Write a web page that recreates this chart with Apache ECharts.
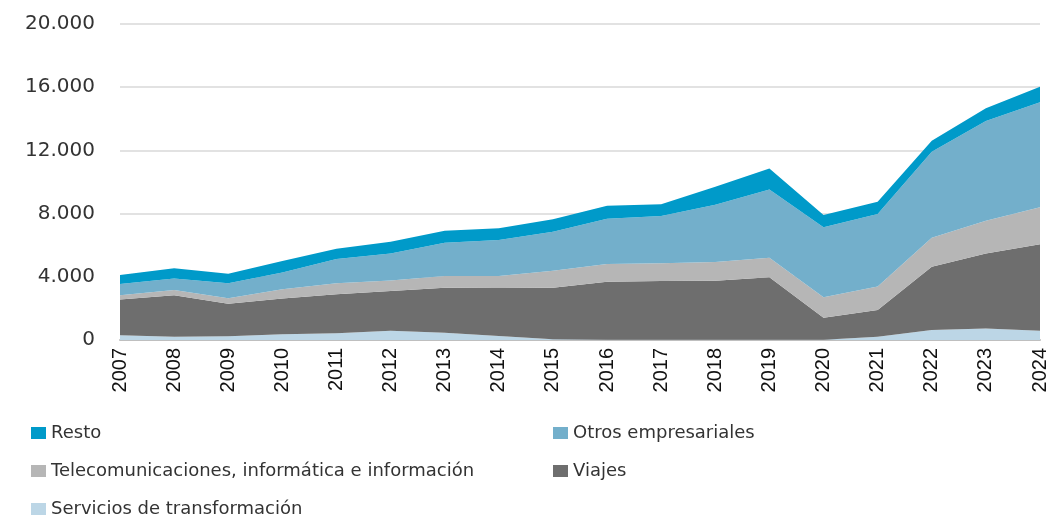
<!DOCTYPE html>
<html>
<head>
<meta charset="utf-8">
<script src="https://cdn.jsdelivr.net/npm/echarts@6/dist/echarts.min.js"></script>
<style>
html,body{margin:0;padding:0;background:#fff;}
#chart{width:1050px;height:518px;}
</style>
</head>
<body>
<div id="chart"></div>
<script>
var years = ['2007','2008','2009','2010','2011','2012','2013','2014','2015','2016','2017','2018','2019','2020','2021','2022','2023','2024'];
var servicios = [300,210,230,360,420,590,460,250,40,20,10,10,10,10,210,630,720,590];
var viajes = [2270,2620,2070,2260,2470,2510,2850,3040,3270,3670,3720,3740,3960,1400,1690,4010,4760,5470];
var telecom = [260,330,340,590,700,660,740,760,1080,1120,1120,1190,1240,1290,1480,1830,2070,2340];
var otros = [710,740,950,1070,1540,1720,2110,2280,2460,2870,3000,3620,4320,4430,4590,5450,6310,6640];
var resto = [570,640,610,720,650,740,760,740,790,820,740,1140,1330,780,780,690,800,990];

var chart = echarts.init(document.getElementById('chart'));
var font = 'DejaVu Sans';

function area(name, data, color){
    return {
        name: name,
        type: 'line',
        stack: 'total',
        data: data,
        symbol: 'none',
        lineStyle: {width: 0},
        areaStyle: {color: color, opacity: 1},
        itemStyle: {color: color}
    };
}

var legendText = {fontFamily: font, fontSize: 18, color: '#333'};

var option = {
    animation: false,
    grid: {left: 120, right: 10, top: 24, bottom: 178},
    legend: [
        {
            orient: 'vertical', left: 26, top: 419, height: 120, itemGap: 20,
            itemWidth: 15, itemHeight: 12, icon: 'rect',
            textStyle: legendText,
            data: ['Resto', 'Telecomunicaciones, informática e información', 'Servicios de transformación']
        },
        {
            orient: 'vertical', left: 548, top: 419, height: 120, itemGap: 20,
            itemWidth: 15, itemHeight: 12, icon: 'rect',
            textStyle: legendText,
            data: ['Otros empresariales', 'Viajes']
        }
    ],
    xAxis: {
        type: 'category',
        boundaryGap: false,
        data: years,
        axisLine: {lineStyle: {color: '#bfbfbf', width: 2}},
        axisTick: {show: false},
        axisLabel: {rotate: 90, color: '#111', fontFamily: 'Liberation Sans', fontSize: 20, margin: 8}
    },
    yAxis: {
        type: 'value',
        min: 0, max: 20000, interval: 4000,
        axisLine: {show: false},
        axisTick: {show: false},
        splitLine: {lineStyle: {color: '#d9d9d9', width: 1.5}},
        axisLabel: {
            color: '#333', fontFamily: font, fontSize: 20, margin: 25,
            formatter: function(v){
                return String(v).replace(/\B(?=(\d{3})+(?!\d))/g, '.');
            }
        }
    },
    series: [
        area('Servicios de transformación', servicios, '#bcd6e6'),
        area('Viajes', viajes, '#6e6e6e'),
        area('Telecomunicaciones, informática e información', telecom, '#b6b6b6'),
        area('Otros empresariales', otros, '#73afcb'),
        area('Resto', resto, '#009ac9')
    ]
};
chart.setOption(option);
</script>
</body>
</html>
